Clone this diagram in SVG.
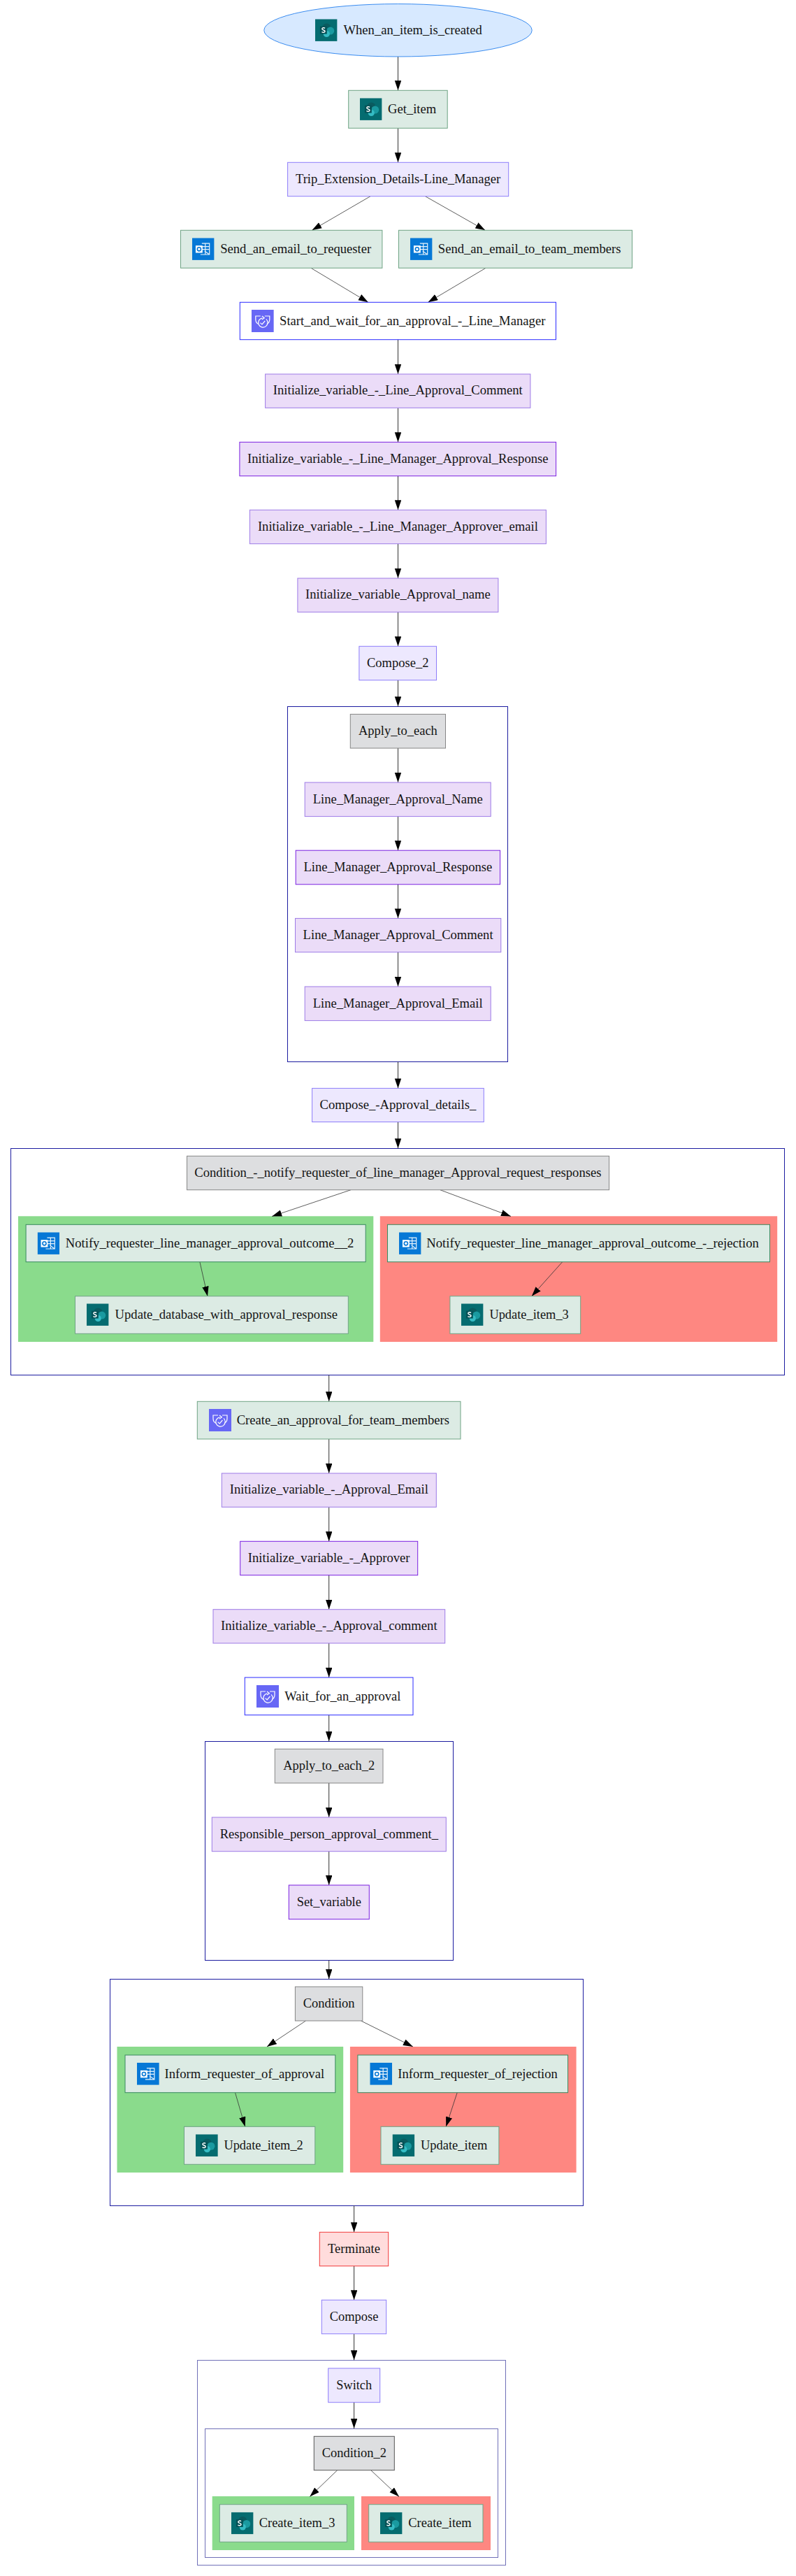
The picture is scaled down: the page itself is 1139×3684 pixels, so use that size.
<svg xmlns="http://www.w3.org/2000/svg" xmlns:xlink="http://www.w3.org/1999/xlink" width="1139" height="3684" viewBox="0 0 1139 3684">
<style>
text{font-family:"Liberation Serif","Times New Roman",serif;font-size:18.67px;fill:#141414}
.m{text-anchor:middle}
rect,ellipse{stroke-width:1}
.act{fill:#dcebe4;stroke:#6ea384}
.var{fill:#ebdcf8;stroke:#9d7be6}
.cmp{fill:#ede8fe;stroke:#8d7dfa}
.grp{fill:#dddee0;stroke:#868686}
.appr{fill:#fff;stroke:#2a2aff}
.term{fill:#ffdcdc;stroke:#f03a3a}
.cl{fill:#fff;stroke:#1c1ca0;shape-rendering:crispEdges}
.mut{stroke:#7070b8}
.yes{fill:#8adb8c;stroke:none}
.no{fill:#fe8781;stroke:none}
.e{stroke:#333;stroke-width:1;fill:none;marker-end:url(#ah)}
.d{stroke-width:.8}
</style>
<defs>
<marker id="ah" markerUnits="userSpaceOnUse" markerWidth="14" markerHeight="10" refX="14" refY="4.7" orient="auto"><path d="M0,0L14,4.7L0,9.4Z" fill="#000"/></marker>
<symbol id="sp" viewBox="0 0 32 32">
<rect width="32" height="32" fill="#056c70" stroke="none"/>
<circle cx="16.5" cy="12.5" r="6.2" fill="#0a5b5f"/><circle cx="22" cy="17" r="5.6" fill="#1a9aa0"/><circle cx="16.5" cy="21.5" r="4.6" fill="#35bcc4"/>
<rect x="7" y="10.5" width="10" height="11" fill="#045257"/>
<path d="M14.2 13.2C12.6 12 9.8 12.6 10 14.4C10.2 16.2 14.2 15.5 14.2 17.7C14.2 19.5 11 19.8 9.6 18.5" fill="none" stroke="#fff" stroke-width="1.5"/>
</symbol>
<symbol id="ol" viewBox="0 0 32 32">
<rect width="32" height="32" fill="#0678d6" stroke="none"/>
<path d="M14 8H25V24H12M14 12.5H25M14 16.5H25M19 8V24M25 24L18 19" fill="none" stroke="#e8f3fc" stroke-width="1.2"/>
<rect x="5" y="11" width="10" height="10.5" fill="#fff"/><circle cx="10" cy="16.2" r="2.6" fill="none" stroke="#0678d6" stroke-width="1.6"/>
</symbol>
<symbol id="ap" viewBox="0 0 32 32">
<rect width="32" height="32" fill="#6767f5" stroke="none"/>
<path d="M10 20.5C7 19 6 17 6 14V9H13M19 9H26V14C26 17 25 19 22 20.5" fill="none" stroke="#fff" stroke-width="1.2"/>
<path d="M21 13.4A6.7 6.7 0 1 1 15.5 11.8M15 9L18.4 11.8L15 14" fill="none" stroke="#fff" stroke-width="1.2"/>
<path d="M12.6 18.6L15.2 21L19.4 16" fill="none" stroke="#fff" stroke-width="1.2"/>
</symbol>
</defs>
<rect width="1139" height="3684" fill="#fff"/>
<g id="clusters">
<rect id="c_apply" class="cl" x="411.7" y="1010.3" width="315" height="508.3"/>
<rect id="c_cond1" class="cl" x="15.7" y="1642.3" width="1107.2" height="324.4"/>
<rect id="c_cond1_yes" class="yes" x="26" y="1739.3" width="508.3" height="179.7"/>
<rect id="c_cond1_no" class="no" x="543.8" y="1739.3" width="568.4" height="179.7"/>
<rect id="c_apply2" class="cl" x="293.3" y="2490.3" width="355" height="313.4"/>
<rect id="c_cond" class="cl" x="157.4" y="2830.3" width="677.3" height="324"/>
<rect id="c_cond_yes" class="yes" x="167.5" y="2927" width="323.7" height="180"/>
<rect id="c_cond_no" class="no" x="500.9" y="2927" width="323.7" height="180"/>
<rect id="c_switch" class="cl mut" x="282.3" y="3375.3" width="440.7" height="292.7"/>
<rect id="c_cond2" class="cl mut" x="293" y="3473" width="419.3" height="184.3"/>
<rect id="c_cond2_yes" class="yes" x="303.7" y="3570" width="203.3" height="77"/>
<rect id="c_cond2_no" class="no" x="517" y="3570" width="185" height="77"/>
</g>
<g id="connectors">
<line class="e" x1="569.5" y1="81" x2="569.5" y2="129.3"/>
<line class="e" x1="569.5" y1="183.3" x2="569.5" y2="232.3"/>
<line class="e d" x1="530" y1="280.7" x2="446.4" y2="329.3"/>
<line class="e d" x1="608.5" y1="280.7" x2="694.2" y2="329.3"/>
<line class="e d" x1="445" y1="383.3" x2="526.8" y2="432.3"/>
<line class="e d" x1="695" y1="383.3" x2="612.5" y2="432.3"/>
<line class="e" x1="569.5" y1="485.7" x2="569.5" y2="535"/>
<line class="e" x1="569.5" y1="583.3" x2="569.5" y2="632.3"/>
<line class="e" x1="569.5" y1="680.7" x2="569.5" y2="729.3"/>
<line class="e" x1="569.5" y1="777.7" x2="569.5" y2="827"/>
<line class="e" x1="569.5" y1="875.3" x2="569.5" y2="924.3"/>
<line class="e" x1="569.5" y1="972.7" x2="569.5" y2="1010.3"/>
<line class="e" x1="569.5" y1="1070" x2="569.5" y2="1119"/>
<line class="e" x1="569.5" y1="1167.6" x2="569.5" y2="1216.2"/>
<line class="e" x1="569.5" y1="1264.8" x2="569.5" y2="1313.4"/>
<line class="e" x1="569.5" y1="1361.7" x2="569.5" y2="1411"/>
<line class="e" x1="569.5" y1="1518.6" x2="569.5" y2="1556.4"/>
<line class="e" x1="569.5" y1="1604.5" x2="569.5" y2="1642.3"/>
<line class="e d" x1="502" y1="1701.7" x2="389.2" y2="1739.5"/>
<line class="e d" x1="629.8" y1="1701.7" x2="731" y2="1739.5"/>
<line class="e d" x1="285.9" y1="1804.7" x2="297" y2="1853.7"/>
<line class="e d" x1="804.7" y1="1804.7" x2="760.8" y2="1853.7"/>
<line class="e" x1="470.7" y1="1966.7" x2="470.7" y2="2004.3"/>
<line class="e" x1="470.7" y1="2058" x2="470.7" y2="2107"/>
<line class="e" x1="470.7" y1="2155.3" x2="470.7" y2="2204.3"/>
<line class="e" x1="470.7" y1="2252.7" x2="470.7" y2="2301.7"/>
<line class="e" x1="470.7" y1="2350" x2="470.7" y2="2399"/>
<line class="e" x1="470.7" y1="2452.7" x2="470.7" y2="2490.3"/>
<line class="e" x1="470.7" y1="2550" x2="470.7" y2="2599"/>
<line class="e" x1="470.7" y1="2647.7" x2="470.7" y2="2696"/>
<line class="e" x1="470.7" y1="2803.7" x2="470.7" y2="2830.3"/>
<line class="e d" x1="437.5" y1="2890" x2="382" y2="2927"/>
<line class="e d" x1="516.5" y1="2890" x2="590.9" y2="2927"/>
<line class="e d" x1="336.5" y1="2992.7" x2="350.7" y2="3041.3"/>
<line class="e d" x1="654.2" y1="2992.7" x2="638.2" y2="3041.3"/>
<line class="e" x1="506.6" y1="3154.3" x2="506.6" y2="3192.3"/>
<line class="e" x1="506.6" y1="3240.7" x2="506.6" y2="3289.3"/>
<line class="e" x1="506.6" y1="3337.7" x2="506.6" y2="3375.3"/>
<line class="e" x1="506.6" y1="3435.7" x2="506.6" y2="3473"/>
<line class="e d" x1="482.7" y1="3532.7" x2="443.3" y2="3570.5"/>
<line class="e d" x1="530.7" y1="3532.7" x2="571" y2="3570.5"/>
</g>
<g id="n_when_an_item_is_created"><ellipse cx="569.5" cy="43.3" rx="191.7" ry="37.7" fill="#d7e9ff" stroke="#3a8cf0"/><use xlink:href="#sp" href="#sp" x="451" y="27.3" width="31.6" height="31.6"/><text x="491.5" y="49.3" textLength="198.2" lengthAdjust="spacingAndGlyphs">When_an_item_is_created</text></g>
<g id="n_get_item"><rect class="act" x="498.7" y="129.3" width="141.5" height="54"/><use xlink:href="#sp" href="#sp" x="515" y="140.3" width="31.6" height="31.6"/><text x="555" y="161.7" textLength="69.2" lengthAdjust="spacingAndGlyphs">Get_item</text></g>
<g id="n_trip"><rect class="cmp" x="411.6" y="232.3" width="316.1" height="48.4"/><text class="m" x="569.6" y="261.8" textLength="293.3" lengthAdjust="spacingAndGlyphs">Trip_Extension_Details-Line_Manager</text></g>
<g id="n_send_req"><rect class="act" x="258.5" y="329.3" width="288.4" height="54"/><use xlink:href="#ol" href="#ol" x="275" y="340.3" width="31.6" height="31.6"/><text x="315.2" y="361.7" textLength="216" lengthAdjust="spacingAndGlyphs">Send_an_email_to_requester</text></g>
<g id="n_send_team"><rect class="act" x="570.5" y="329.3" width="334" height="54"/><use xlink:href="#ol" href="#ol" x="587" y="340.3" width="31.6" height="31.6"/><text x="626.8" y="361.7" textLength="261.6" lengthAdjust="spacingAndGlyphs">Send_an_email_to_team_members</text></g>
<g id="n_start_wait"><rect class="appr" x="343.3" y="432.3" width="452.2" height="53.4"/><use xlink:href="#ap" href="#ap" x="359.8" y="443" width="32" height="32"/><text x="400" y="464.8" textLength="380.4" lengthAdjust="spacingAndGlyphs">Start_and_wait_for_an_approval_-_Line_Manager</text></g>
<g id="n_init_line_comment"><rect class="var" x="379.6" y="535" width="379.3" height="48.3"/><text class="m" x="569.3" y="564.4" textLength="357" lengthAdjust="spacingAndGlyphs">Initialize_variable_-_Line_Approval_Comment</text></g>
<g id="n_init_lm_response"><rect class="var" x="342.9" y="632.3" width="452.7" height="48.4" style="stroke:#7a1fe0"/><text class="m" x="569.3" y="661.8" textLength="430.5" lengthAdjust="spacingAndGlyphs">Initialize_variable_-_Line_Manager_Approval_Response</text></g>
<g id="n_init_lm_email"><rect class="var" x="357.4" y="729.3" width="424" height="48.4"/><text class="m" x="569.4" y="758.8" textLength="401" lengthAdjust="spacingAndGlyphs">Initialize_variable_-_Line_Manager_Approver_email</text></g>
<g id="n_init_approval_name"><rect class="var" x="425.9" y="827" width="287" height="48.3"/><text class="m" x="569.4" y="856.4" textLength="264.8" lengthAdjust="spacingAndGlyphs">Initialize_variable_Approval_name</text></g>
<g id="n_compose_2"><rect class="cmp" x="513.9" y="924.3" width="110.6" height="48.4"/><text class="m" x="569.2" y="953.8" textLength="88.4" lengthAdjust="spacingAndGlyphs">Compose_2</text></g>
<g id="n_apply_to_each"><rect class="grp" x="501.3" y="1021.4" width="136.2" height="48.6"/><text class="m" x="569.4" y="1051" textLength="112.9" lengthAdjust="spacingAndGlyphs">Apply_to_each</text></g>
<g id="n_lm_name"><rect class="var" x="436.2" y="1119" width="266" height="48.6"/><text class="m" x="569.2" y="1148.6" textLength="243" lengthAdjust="spacingAndGlyphs">Line_Manager_Approval_Name</text></g>
<g id="n_lm_response"><rect class="var" x="423.2" y="1216.2" width="292.4" height="48.6" style="stroke:#7a1fe0"/><text class="m" x="569.4" y="1245.8" textLength="269.8" lengthAdjust="spacingAndGlyphs">Line_Manager_Approval_Response</text></g>
<g id="n_lm_comment"><rect class="var" x="422.5" y="1313.4" width="294.3" height="48.3"/><text class="m" x="569.6" y="1342.8" textLength="272" lengthAdjust="spacingAndGlyphs">Line_Manager_Approval_Comment</text></g>
<g id="n_lm_email"><rect class="var" x="436.2" y="1411" width="266" height="48.6"/><text class="m" x="569.2" y="1440.6" textLength="243" lengthAdjust="spacingAndGlyphs">Line_Manager_Approval_Email</text></g>
<g id="n_compose_details"><rect class="cmp" x="446.6" y="1556.4" width="245.7" height="48.1"/><text class="m" x="569.4" y="1585.8" textLength="223.9" lengthAdjust="spacingAndGlyphs">Compose_-Approval_details_</text></g>
<g id="n_condition_notify"><rect class="grp" x="267.5" y="1653.3" width="604.1" height="48.4"/><text class="m" x="569.4" y="1682.8" textLength="582.3" lengthAdjust="spacingAndGlyphs">Condition_-_notify_requester_of_line_manager_Approval_request_responses</text></g>
<g id="n_notify_2"><rect class="act" x="37.1" y="1751.3" width="486.1" height="53.4" style="stroke:#3a8a60"/><use xlink:href="#ol" href="#ol" x="53.6" y="1762.3" width="31.6" height="31.6"/><text x="93.8" y="1783.6" textLength="412.6" lengthAdjust="spacingAndGlyphs">Notify_requester_line_manager_approval_outcome__2</text></g>
<g id="n_update_db"><rect class="act" x="107.5" y="1853.7" width="390.8" height="53.6"/><use xlink:href="#sp" href="#sp" x="124" y="1864.3" width="31.6" height="31.6"/><text x="164.6" y="1886" textLength="318.4" lengthAdjust="spacingAndGlyphs">Update_database_with_approval_response</text></g>
<g id="n_notify_reject"><rect class="act" x="554.5" y="1751.3" width="547" height="53.4" style="stroke:#3a8a60"/><use xlink:href="#ol" href="#ol" x="571" y="1762.3" width="31.6" height="31.6"/><text x="610.3" y="1783.6" textLength="475.6" lengthAdjust="spacingAndGlyphs">Notify_requester_line_manager_approval_outcome_-_rejection</text></g>
<g id="n_update_3"><rect class="act" x="643.9" y="1853.7" width="186.8" height="53.6"/><use xlink:href="#sp" href="#sp" x="660" y="1864.3" width="31.6" height="31.6"/><text x="700.4" y="1886" textLength="113.4" lengthAdjust="spacingAndGlyphs">Update_item_3</text></g>
<g id="n_create_approval"><rect class="act" x="282.3" y="2004.3" width="376.7" height="53.7"/><use xlink:href="#ap" href="#ap" x="299" y="2015" width="32" height="32"/><text x="338.7" y="2037" textLength="304.3" lengthAdjust="spacingAndGlyphs">Create_an_approval_for_team_members</text></g>
<g id="n_init_email"><rect class="var" x="317.3" y="2107" width="307" height="48.3"/><text class="m" x="470.8" y="2136.4" textLength="284" lengthAdjust="spacingAndGlyphs">Initialize_variable_-_Approval_Email</text></g>
<g id="n_init_approver"><rect class="var" x="343.7" y="2204.3" width="254" height="48.4" style="stroke:#7a1fe0"/><text class="m" x="470.7" y="2233.8" textLength="231.7" lengthAdjust="spacingAndGlyphs">Initialize_variable_-_Approver</text></g>
<g id="n_init_comment"><rect class="var" x="305" y="2301.7" width="331.7" height="48.3"/><text class="m" x="470.8" y="2331.1" textLength="309.7" lengthAdjust="spacingAndGlyphs">Initialize_variable_-_Approval_comment</text></g>
<g id="n_wait"><rect class="appr" x="350.3" y="2399" width="240.7" height="53.7"/><use xlink:href="#ap" href="#ap" x="367" y="2410" width="32" height="32"/><text x="407.3" y="2431.7" textLength="166" lengthAdjust="spacingAndGlyphs">Wait_for_an_approval</text></g>
<g id="n_apply_2"><rect class="grp" x="393.3" y="2501.3" width="154.7" height="48.7"/><text class="m" x="470.7" y="2531" textLength="131" lengthAdjust="spacingAndGlyphs">Apply_to_each_2</text></g>
<g id="n_responsible"><rect class="var" x="303.3" y="2599" width="335" height="48.7"/><text class="m" x="470.8" y="2628.6" textLength="312.3" lengthAdjust="spacingAndGlyphs">Responsible_person_approval_comment_</text></g>
<g id="n_set_variable"><rect class="var" x="413.3" y="2696" width="115" height="48.7" style="stroke:#7a1fe0"/><text class="m" x="470.8" y="2725.6" textLength="92.3" lengthAdjust="spacingAndGlyphs">Set_variable</text></g>
<g id="n_condition"><rect class="grp" x="422.4" y="2841.3" width="96.4" height="48.7"/><text class="m" x="470.6" y="2871" textLength="73.9" lengthAdjust="spacingAndGlyphs">Condition</text></g>
<g id="n_inform_approval"><rect class="act" x="179" y="2939" width="300.8" height="53.7" style="stroke:#3a8a60"/><use xlink:href="#ol" href="#ol" x="196" y="2950" width="31.8" height="31.8"/><text x="235.5" y="2971.6" textLength="228.6" lengthAdjust="spacingAndGlyphs">Inform_requester_of_approval</text></g>
<g id="n_inform_reject"><rect class="act" x="511.9" y="2939" width="300.7" height="53.7" style="stroke:#3a8a60"/><use xlink:href="#ol" href="#ol" x="529.3" y="2950" width="31.8" height="31.8"/><text x="569.3" y="2971.6" textLength="228.6" lengthAdjust="spacingAndGlyphs">Inform_requester_of_rejection</text></g>
<g id="n_update_2"><rect class="act" x="263.5" y="3041.3" width="187.3" height="54"/><use xlink:href="#sp" href="#sp" x="280" y="3052.3" width="31.8" height="31.8"/><text x="320.4" y="3073.8" textLength="113.4" lengthAdjust="spacingAndGlyphs">Update_item_2</text></g>
<g id="n_update_item"><rect class="act" x="545" y="3041.3" width="168.9" height="54"/><use xlink:href="#sp" href="#sp" x="561.5" y="3052.3" width="31.8" height="31.8"/><text x="601.9" y="3073.8" textLength="95.5" lengthAdjust="spacingAndGlyphs">Update_item</text></g>
<g id="n_terminate"><rect class="term" x="457.3" y="3192.3" width="98.4" height="48.4"/><text class="m" x="506.5" y="3222" textLength="75" lengthAdjust="spacingAndGlyphs">Terminate</text></g>
<g id="n_compose"><rect class="cmp" x="460.3" y="3289.3" width="92.4" height="48.4"/><text class="m" x="506.5" y="3319" textLength="69.7" lengthAdjust="spacingAndGlyphs">Compose</text></g>
<g id="n_switch"><rect class="cmp" x="469.7" y="3387" width="74" height="48.7"/><text class="m" x="506.7" y="3416.6" textLength="50.7" lengthAdjust="spacingAndGlyphs">Switch</text></g>
<g id="n_condition_2"><rect class="grp" x="449.3" y="3484.3" width="115" height="48.4" style="stroke:#555"/><text class="m" x="506.8" y="3514" textLength="92.3" lengthAdjust="spacingAndGlyphs">Condition_2</text></g>
<g id="n_create_3"><rect class="act" x="314.3" y="3581.7" width="182" height="53.6"/><use xlink:href="#sp" href="#sp" x="331" y="3592.7" width="31.6" height="31.6"/><text x="370.7" y="3614" textLength="108.7" lengthAdjust="spacingAndGlyphs">Create_item_3</text></g>
<g id="n_create_item"><rect class="act" x="527.7" y="3581.7" width="163.3" height="53.6"/><use xlink:href="#sp" href="#sp" x="544" y="3592.7" width="31.6" height="31.6"/><text x="584.3" y="3614" textLength="90.3" lengthAdjust="spacingAndGlyphs">Create_item</text></g>
</svg>
